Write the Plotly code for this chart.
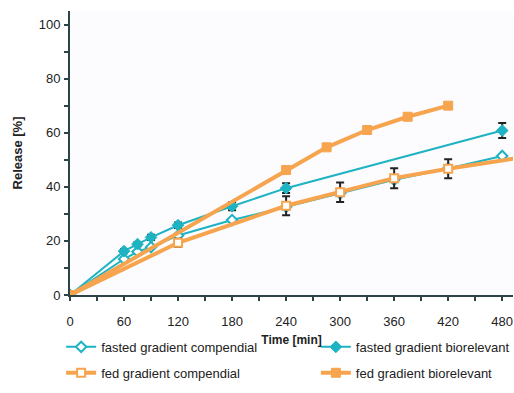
import plotly.graph_objects as go

# fasted gradient compendial
fc_t = [0, 60, 75, 90, 120, 180, 240, 300, 360, 420, 480]
fc_v = [0, 13.3, 16.0, 17.7, 22.0, 27.7, 32.6, 37.6, 42.6, 46.8, 51.4]

# fasted gradient biorelevant
fb_t = [0, 60, 75, 90, 120, 180, 240, 480]
fb_v = [0, 16.2, 18.8, 21.3, 25.8, 32.8, 39.5, 60.8]
fb_e = [0, 0.8, 0.8, 1.0, 1.0, 1.5, 1.8, 2.8]

# fed gradient compendial
dc_t = [0, 120, 240, 300, 360, 420, 500]
dc_v = [0, 19.3, 33.0, 38.0, 43.2, 46.7, 50.8]
dc_e = [0, 1.5, 3.5, 3.6, 3.7, 3.5, 0]

# fed gradient biorelevant
db_t = [0, 240, 285, 330, 375, 420]
db_v = [0, 46.2, 54.6, 61.0, 65.9, 70.0]
db_e = [0, 0.8, 0.8, 0.8, 0.8, 0.8]

x_ticks = [0, 60, 120, 180, 240, 300, 360, 420, 480]
y_ticks = [0, 20, 40, 60, 80, 100]

CYAN = "#1db3c2"
ORANGE = "#f7a44f"
FONT = "Liberation Sans, Arial, sans-serif"
AX = "#2c4448"

fig = go.Figure()

fig.add_trace(go.Scatter(
    x=fc_t, y=fc_v, name="fasted gradient compendial", mode="lines+markers",
    legend="legend", legendgroup="a",
    line=dict(color=CYAN, width=2),
    marker=dict(symbol="diamond", size=8, color="white", line=dict(color=CYAN, width=2)),
))
fig.add_trace(go.Scatter(
    x=fb_t, y=fb_v, name="fasted gradient biorelevant", mode="lines+markers",
    legend="legend2", legendgroup="b",
    line=dict(color=CYAN, width=2),
    marker=dict(symbol="diamond", size=9, color=CYAN, line=dict(color=CYAN, width=1)),
    error_y=dict(type="data", array=fb_e, color="#222", thickness=2, width=4),
))
fig.add_trace(go.Scatter(
    x=dc_t, y=dc_v, name="fed gradient compendial", mode="lines+markers",
    legend="legend", legendgroup="c",
    line=dict(color=ORANGE, width=4),
    marker=dict(symbol="square", size=8, color="white", line=dict(color=ORANGE, width=2)),
    error_y=dict(type="data", array=dc_e, color="#222", thickness=2, width=4),
))
fig.add_trace(go.Scatter(
    x=db_t, y=db_v, name="fed gradient biorelevant", mode="lines+markers",
    legend="legend2", legendgroup="d",
    line=dict(color=ORANGE, width=4),
    marker=dict(symbol="square", size=9, color=ORANGE, line=dict(color=ORANGE, width=1)),
    error_y=dict(type="data", array=db_e, color="#222", thickness=2, width=3),
))

axis_common = dict(
    showgrid=False, zeroline=False, showline=True, linecolor=AX, linewidth=2,
    ticks="outside", ticklen=4, tickwidth=1.5, tickcolor=AX, automargin=False,
    tickfont=dict(family=FONT, size=13, color="#222"),
)

fig.update_xaxes(
    range=[0, 492], tickmode="array", tickvals=x_ticks, ticktext=[str(v) for v in x_ticks],
    minor=dict(dtick=30, tick0=0, ticks="outside", ticklen=4, tickcolor=AX, tickwidth=1.5),
    ticklabelstandoff=9,
    title=dict(text="<b>Time [min]</b>", font=dict(family=FONT, size=12, color="#222"), standoff=8),
    **axis_common,
)
fig.update_yaxes(
    range=[0, 105], tickmode="array", tickvals=y_ticks, ticktext=[str(v) for v in y_ticks],
    minor=dict(dtick=10, tick0=0, ticks="outside", ticklen=4, tickcolor=AX, tickwidth=1.5),
    ticklabelstandoff=1,
    title=dict(text="<b>Release [%]</b>", font=dict(family=FONT, size=13, color="#222"), standoff=13),
    **axis_common,
)

leg_common = dict(
    orientation="v", xanchor="left", yanchor="top", itemwidth=30,
    font=dict(family=FONT, size=13, color="#222"),
    tracegroupgap=6, bgcolor="rgba(0,0,0,0)",
)

fig.update_layout(
    width=514, height=393,
    margin=dict(l=70, r=1, t=11, b=98, autoexpand=False),
    paper_bgcolor="white", plot_bgcolor="#fcfcfe",
    font=dict(family=FONT, size=12, color="#222"),
    legend=dict(x=-0.02, y=-0.13, **leg_common),
    legend2=dict(x=0.555, y=-0.13, **leg_common),
)

fig.write_html(
    "out.html",
    config={"displayModeBar": False},
    post_script="document.body.style.margin='0';document.body.style.overflow='hidden';",
)
